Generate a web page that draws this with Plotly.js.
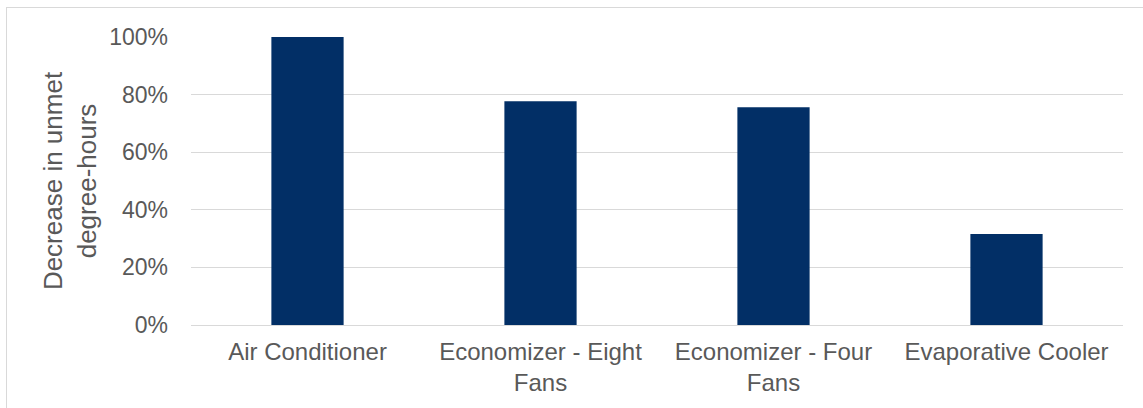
<!DOCTYPE html>
<html>
<head>
<meta charset="utf-8">
<script src="https://cdn.plot.ly/plotly-3.0.1.min.js"></script>
<style>
  html, body { margin: 0; padding: 0; background: #fff; overflow: hidden; }
  #chart { position: absolute; left: 0; top: 0; width: 1143px; height: 408px; }
  #frame { position: absolute; left: 6px; top: 7px; width: 1150px; height: 420px;
           border: 1px solid #D9D9D9; box-sizing: border-box; pointer-events: none; }
</style>
</head>
<body>
<div id="chart"></div>
<div id="frame"></div>
<script>
const categories = ["Air Conditioner", "Economizer - Eight<br>Fans", "Economizer - Four<br>Fans", "Evaporative Cooler"];
const decrease = [1.00, 0.777, 0.756, 0.316];
const tickValues = [0, 0.2, 0.4, 0.6, 0.8, 1.0];
const tickLabels = ["0%", "20%", "40%", "60%", "80%", "100%"];
const yTitle = "Decrease in unmet<br>degree-hours";

const font = "Liberation Sans, Arial, sans-serif";
const grey = "#595959";

Plotly.newPlot("chart", [{
  type: "bar",
  x: categories,
  y: decrease,
  marker: { color: "#022F66" },
  hoverinfo: "none"
}], {
  width: 1143, height: 408,
  margin: { l: 191, r: 20, t: 37, b: 83 },
  paper_bgcolor: "#fff", plot_bgcolor: "#fff",
  bargap: 0.69,
  showlegend: false,
  font: { family: font, color: grey, size: 23 },
  xaxis: {
    showgrid: false, zeroline: false,
    showline: false,
    ticks: "", tickfont: { family: font, size: 24, color: grey },
    ticklabelstandoff: 10
  },
  yaxis: {
    range: [0, 1.0], fixedrange: true,
    tickvals: tickValues, ticktext: tickLabels,
    showgrid: true, gridcolor: "#D9D9D9", gridwidth: 1,
    zeroline: true, zerolinecolor: "#D9D9D9", zerolinewidth: 1,
    showline: false, ticks: "",
    tickfont: { family: font, size: 23, color: grey },
    ticklabelstandoff: 22,
    title: { text: yTitle, font: { family: font, size: 26, color: grey }, standoff: 5 }
  }
}, { displayModeBar: false, staticPlot: true });
</script>
</body>
</html>
